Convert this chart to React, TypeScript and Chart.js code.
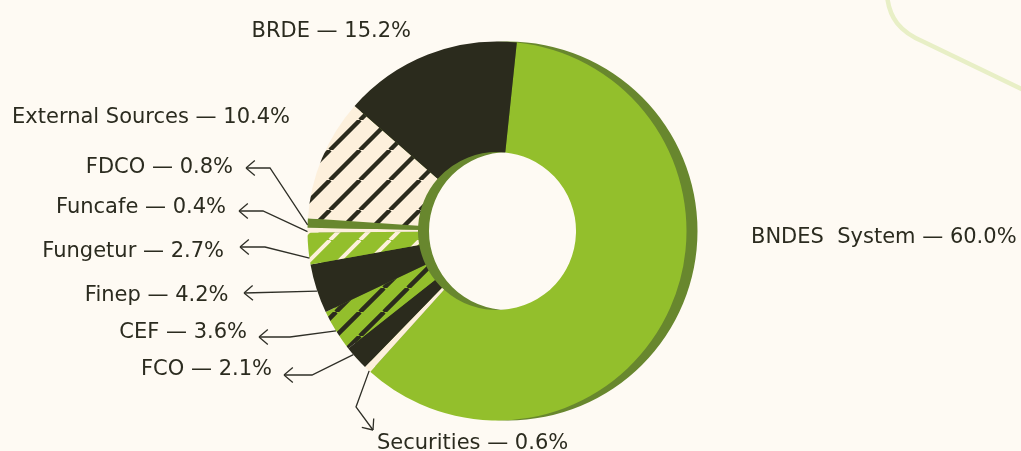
import React, { useEffect, useRef } from "react";
import { Chart, registerables } from "chart.js";

Chart.register(...registerables);

// ---------- data ----------
const categories = [
  "BNDES  System",
  "Securities",
  "FCO",
  "CEF",
  "Finep",
  "Fungetur",
  "Funcafe",
  "FDCO",
  "External Sources",
  "BRDE",
];
const shares = [60.0, 0.6, 2.1, 3.6, 4.2, 2.7, 0.4, 0.8, 10.4, 15.2];

// ---------- styles ----------
const BG = "#fefaf3";
const GREEN = "#93bf2c";
const DKGREEN = "#68872e";
const DARK = "#2b2b1d";
const CREAM = "#fdf0dc";
const TEXT = "#2b2b1f";
const FONT = '21px "DejaVu Sans"';

// ---------- label layout (annotation positions, not data) ----------
const labelX = [751, 377, 272, 247, 228.5, 224, 226, 233, 290, 411];
const labelY = [243, 449, 375, 337.5, 300.7, 256.7, 212.7, 172.7, 123, 36.7];
const labelAlign: CanvasTextAlign[] = [
  "left", "left", "right", "right", "right", "right", "right", "right", "right", "right",
];
const leaderTip: ([number, number] | null)[] = [
  null, [373, 430], [284, 375], [259, 337], [244, 293], [240, 247], [239, 211], [246, 168], null, null,
];
const leaderElbow: ([number, number] | null)[] = [
  null, [356, 407], [312, 375], [290, 337], null, [265, 247], [263, 211], [270, 168], null, null,
];
const leaderT = [0.5, 0.2, 0.68, 0.5, 0.45, 0.2, 0.2, 0.3, 0.5, 0.5];

function stripes(bg: string, fg: string, size: number, lw: number): CanvasPattern | string {
  const c = document.createElement("canvas");
  c.width = size;
  c.height = size;
  const g = c.getContext("2d");
  if (!g) return bg;
  g.fillStyle = bg;
  g.fillRect(0, 0, size, size);
  g.strokeStyle = fg;
  g.lineWidth = lw;
  g.beginPath();
  for (let k = -1; k <= 1; k++) {
    g.moveTo(k * size, size);
    g.lineTo(k * size + size, 0);
  }
  g.stroke();
  const ctx = document.createElement("canvas").getContext("2d")!;
  return ctx.createPattern(c, "repeat") || bg;
}

export default function App() {
  const ref = useRef<HTMLCanvasElement>(null);

  useEffect(() => {
    document.body.style.margin = "0";
    document.body.style.background = BG;
    const canvas = ref.current;
    if (!canvas) return;

    const colors = [
      GREEN,
      CREAM,
      DARK,
      stripes(GREEN, DARK, 24, 4.5),
      DARK,
      stripes(GREEN, CREAM, 30, 4),
      CREAM,
      DKGREEN,
      stripes(CREAM, DARK, 30, 4.4),
      DARK,
    ];

    const bgPlugin = {
      id: "bg",
      beforeDraw(chart: any) {
        const ctx = chart.ctx as CanvasRenderingContext2D;
        ctx.save();
        ctx.fillStyle = BG;
        ctx.fillRect(0, 0, chart.width, chart.height);
        ctx.strokeStyle = "#e8efc6";
        ctx.lineWidth = 4.5;
        ctx.lineCap = "round";
        ctx.beginPath();
        ctx.moveTo(887, -5);
        ctx.bezierCurveTo(889, 18, 900, 32, 924, 42);
        ctx.lineTo(1030, 93);
        ctx.stroke();
        ctx.restore();
      },
    };

    const shadowPlugin = {
      id: "shadow",
      beforeDatasetsDraw(chart: any) {
        const arc = chart.getDatasetMeta(0).data[0];
        if (!arc) return;
        const { x, y, outerRadius, innerRadius } = arc.getProps(
          ["x", "y", "outerRadius", "innerRadius"],
          true
        );
        const ctx = chart.ctx as CanvasRenderingContext2D;
        const dx = 11;
        ctx.save();
        ctx.fillStyle = DKGREEN;
        ctx.beginPath();
        ctx.moveTo(x + dx + outerRadius, y);
        ctx.arc(x + dx, y, outerRadius, 0, Math.PI * 2);
        ctx.moveTo(x + dx + innerRadius, y);
        ctx.arc(x + dx, y, innerRadius, 0, Math.PI * 2);
        ctx.fill("evenodd");
        ctx.restore();
      },
    };

    const labelPlugin = {
      id: "labels",
      afterDatasetsDraw(chart: any) {
        const ctx = chart.ctx as CanvasRenderingContext2D;
        const meta = chart.getDatasetMeta(0);
        ctx.save();
        ctx.font = FONT;
        ctx.fillStyle = TEXT;
        ctx.textBaseline = "alphabetic";
        categories.forEach((cat, i) => {
          ctx.textAlign = labelAlign[i];
          ctx.fillText(`${cat} \u2014 ${shares[i].toFixed(1)}%`, labelX[i], labelY[i]);
        });
        ctx.strokeStyle = "#2f2f27";
        ctx.lineWidth = 1.3;
        ctx.lineJoin = "miter";
        categories.forEach((_, i) => {
          const tip = leaderTip[i];
          if (!tip) return;
          const el = meta.data[i];
          const { x, y, startAngle, endAngle, outerRadius } = el.getProps(
            ["x", "y", "startAngle", "endAngle", "outerRadius"],
            true
          );
          const a = startAngle + leaderT[i] * (endAngle - startAngle);
          const ax = x + outerRadius * Math.cos(a);
          const ay = y + outerRadius * Math.sin(a);
          const elbow = leaderElbow[i];
          ctx.beginPath();
          ctx.moveTo(ax, ay);
          if (elbow) ctx.lineTo(elbow[0], elbow[1]);
          ctx.lineTo(tip[0], tip[1]);
          ctx.stroke();
          const from = elbow || [ax, ay];
          let ux = tip[0] - from[0];
          let uy = tip[1] - from[1];
          const len = Math.hypot(ux, uy) || 1;
          ux /= len;
          uy /= len;
          const th = (40 * Math.PI) / 180;
          const L = 11.5;
          ctx.beginPath();
          for (const s of [1, -1]) {
            const rx = ux * Math.cos(s * th) - uy * Math.sin(s * th);
            const ry = ux * Math.sin(s * th) + uy * Math.cos(s * th);
            ctx.moveTo(tip[0] - L * rx, tip[1] - L * ry);
            ctx.lineTo(tip[0], tip[1]);
          }
          ctx.stroke();
        });
        ctx.restore();
      },
    };

    const chart = new Chart(canvas, {
      type: "doughnut",
      data: {
        labels: categories,
        datasets: [
          {
            data: shares,
            backgroundColor: colors as any,
            borderWidth: 0,
            hoverOffset: 0,
          },
        ],
      },
      options: {
        responsive: false,
        animation: false,
        rotation: 6,
        cutout: "41.7%",
        events: [],
        layout: { padding: { top: 41.5, bottom: 30.5, left: 0, right: 27 } },
        plugins: {
          legend: { display: false },
          tooltip: { enabled: false },
        },
      },
      plugins: [bgPlugin, shadowPlugin, labelPlugin],
    });
    return () => chart.destroy();
  }, []);

  return (
    <div style={{ width: 1021, height: 451, background: BG }}>
      <canvas ref={ref} width={1021} height={451} style={{ display: "block" }} />
    </div>
  );
}
